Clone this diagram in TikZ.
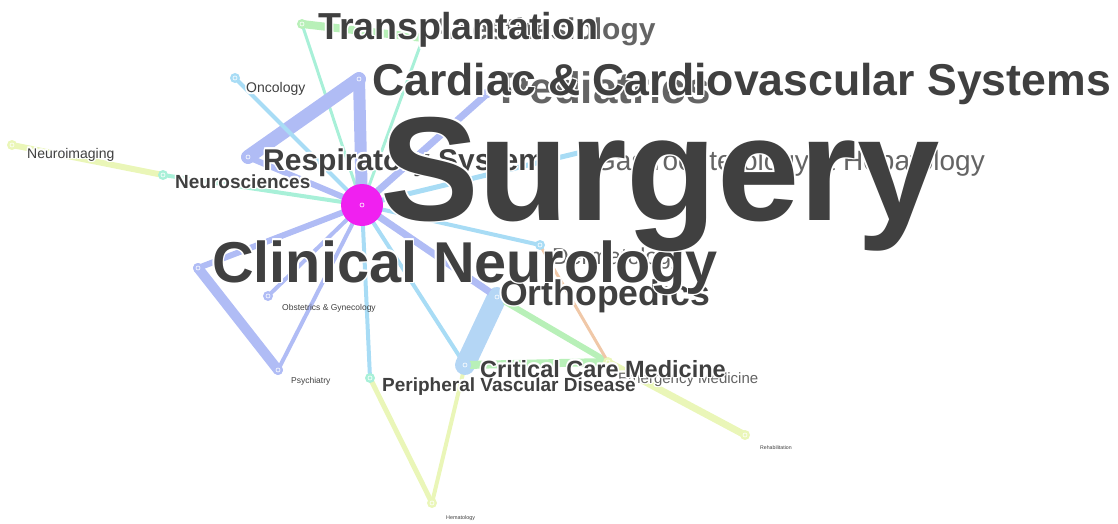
\documentclass[tikz,border=0pt]{standalone}
\usepackage{fontspec}
\setmainfont{Liberation Sans}
\usepackage{tikz}
\usetikzlibrary{backgrounds}

\definecolor{lblgray}{RGB}{64,64,64}
\definecolor{hidgray}{RGB}{100,100,100}
\definecolor{hubpink}{RGB}{240,32,240}
\definecolor{cblue}{RGB}{176,188,245}
\definecolor{ccyan}{RGB}{168,220,245}
\definecolor{cmint}{RGB}{168,240,216}
\definecolor{clight}{RGB}{180,214,245}
\definecolor{cgreen}{RGB}{184,240,184}
\definecolor{cyel}{RGB}{234,246,184}
\definecolor{corange}{RGB}{240,200,168}

\newcommand{\fsz}[1]{\fontsize{#1}{#1}\selectfont}
% label with a white halo: name, style, font, x, y, text
\newcommand{\halolbl}[6]{%
  \foreach \dx/\dy in {-1.6/0,1.6/0,0/-1.6,0/1.6,-1.1/-1.1,1.1/1.1,-1.1/1.1,1.1/-1.1}
    \node[#2, text=white, font=#3, xshift=\dx, yshift=\dy] at (#4,#5) {#6};
  \node[#2, font=#3] (#1) at (#4,#5) {#6};}

\tikzset{
  kw/.style={circle, fill=#1, inner sep=0pt, minimum size=10pt},
  edge/.style={draw=#1, line cap=round},
  lbl/.style={text=lblgray, anchor=base west, inner sep=0pt},
  hid/.style={text=hidgray, anchor=base west, inner sep=0pt}
}

\begin{document}
\begin{tikzpicture}[x=1pt,y=-1pt]

  \useasboundingbox (0,0) rectangle (1118,524);

  % Hub
  \node[circle, fill=hubpink, inner sep=0pt, minimum size=42pt] (hub) at (362,205) {};

  % Keyword nodes
  \node[kw=cgreen] (trans) at (302,24) {};
  \node[kw=cmint] (anest) at (423,38) {};
  \node[kw=cblue, minimum size=12pt] (card) at (359,79) {};
  \node[kw=cblue] (pedi) at (488,93) {};
  \node[kw=ccyan] (onco) at (235,78) {};
  \node[kw=cblue, minimum size=12pt] (resp) at (248,157) {};
  \node[kw=cmint] (neuro) at (163,175) {};
  \node[kw=cyel] (nimg) at (12,145) {};
  \node[kw=ccyan] (gastro) at (582,152) {};
  \node[kw=cblue] (clin) at (198,268) {};
  \node[kw=cblue] (obst) at (268,296) {};
  \node[kw=cblue] (psych) at (278,370) {};
  \node[kw=ccyan] (derm) at (540,245) {};
  \node[kw=clight, minimum size=18pt] (ortho) at (497,297) {};
  \node[kw=clight, minimum size=12pt] (crit) at (465,365) {};
  \node[kw=cmint] (peri) at (370,378) {};
  \node[kw=cyel] (emerg) at (608,362) {};
  \node[kw=cyel] (hema) at (432,503) {};
  \node[kw=cyel] (rehab) at (745,435) {};

  % Links
  \begin{scope}[on background layer]
    \draw[edge=cmint, line width=3] (hub.center) -- (trans.center);
    \draw[edge=cgreen, line width=8] (trans.center) -- (anest.center);
    \draw[edge=cmint, line width=3] (hub.center) -- (anest.center);
    \draw[edge=cblue, line width=12] (hub.center) -- (card.center);
    \draw[edge=cblue, line width=14] (card.center) -- (resp.center);
    \draw[edge=cblue, line width=6] (resp.center) -- (hub.center);
    \draw[edge=cblue, line width=7] (hub.center) -- (pedi.center);
    \draw[edge=ccyan, line width=4] (hub.center) -- (onco.center);
    \draw[edge=cmint, line width=4] (hub.center) -- (neuro.center);
    \draw[edge=cyel, line width=6] (neuro.center) -- (nimg.center);
    \draw[edge=ccyan, line width=5] (hub.center) -- (gastro.center);
    \draw[edge=cblue, line width=6] (hub.center) -- (clin.center);
    \draw[edge=cblue, line width=10] (clin.center) -- (psych.center);
    \draw[edge=cblue, line width=4] (hub.center) -- (psych.center);
    \draw[edge=cblue, line width=4] (hub.center) -- (obst.center);
    \draw[edge=ccyan, line width=4] (hub.center) -- (peri.center);
    \draw[edge=cyel, line width=5] (peri.center) -- (hema.center);
    \draw[edge=cyel, line width=4] (crit.center) -- (hema.center);
    \draw[edge=ccyan, line width=4] (hub.center) -- (crit.center);
    \draw[edge=clight, line width=20] (crit.center) -- (ortho.center);
    \draw[edge=cblue, line width=7] (hub.center) -- (ortho.center);
    \draw[edge=ccyan, line width=4] (hub.center) -- (derm.center);
    \draw[edge=cgreen, line width=6] (ortho.center) -- (emerg.center);
    \draw[edge=cgreen, line width=8] (crit.center) -- (emerg.center);
    \draw[edge=corange, line width=3] (derm.center) -- (emerg.center);
    \draw[edge=cyel, line width=7] (emerg.center) -- (rehab.center);
  \end{scope}

  % White rings in the nodes
  \foreach \n in {trans,anest,card,pedi,onco,resp,neuro,nimg,gastro,clin,obst,psych,derm,ortho,crit,peri,emerg,hema,rehab,hub}
    \draw[white, line width=0.6pt] (\n.center) circle (2);

  % Labels half hidden
  \halolbl{anestlbl}{hid}{\bfseries\fsz{30}}{432}{40}{Anesthesiology}
  \halolbl{pedilbl}{hid}{\bfseries\fsz{44}}{500}{103}{Pediatrics}
  \halolbl{gastrolbl}{hid}{\fsz{28}}{594}{170}{Gastroenterology \& Hepatology}
  \halolbl{dermlbl}{hid}{\fsz{23}}{552}{264}{Dermatology}
  \halolbl{emerglbl}{hid}{\fsz{15}}{618}{383}{Emergency Medicine}

  % Labels
  \halolbl{oncolbl}{lbl}{\fsz{14}}{246}{93}{Oncology}
  \halolbl{nimglbl}{lbl}{\fsz{14}}{27}{158}{Neuroimaging}
  \halolbl{neurolbl}{lbl}{\bfseries\fsz{19}}{175}{188}{Neurosciences}
  \node[lbl, font=\fsz{8.5}] (obstlbl) at (282,310) {Obstetrics \& Gynecology};
  \node[lbl, font=\fsz{8.5}] (psychlbl) at (291,383) {Psychiatry};
  \node[lbl, font=\fsz{5.4}] (hemalbl) at (446,519) {Hematology};
  \node[lbl, font=\fsz{5.2}] (rehablbl) at (760,449) {Rehabilitation};
  \halolbl{perilbl}{lbl}{\bfseries\fsz{19}}{382}{391}{Peripheral Vascular Disease}
  \halolbl{critlbl}{lbl}{\bfseries\fsz{23.5}}{480}{377}{Critical Care Medicine}
  \halolbl{ortholbl}{lbl}{\bfseries\fsz{35.6}}{500}{305}{Orthopedics}
  \halolbl{clinlbl}{lbl}{\bfseries\fsz{57.6}}{212}{282}{Clinical Neurology}
  \halolbl{resplbl}{lbl}{\bfseries\fsz{30}}{263}{170}{Respiratory System}
  \halolbl{translbl}{lbl}{\bfseries\fsz{37.6}}{318}{40}{Transplantation}
  \halolbl{cardlbl}{lbl}{\bfseries\fsz{44.6}}{372}{96}{Cardiac \& Cardiovascular Systems}
  \halolbl{surglbl}{lbl}{\bfseries\fsz{148}}{380}{220}{Surgery}

\end{tikzpicture}
\end{document}
